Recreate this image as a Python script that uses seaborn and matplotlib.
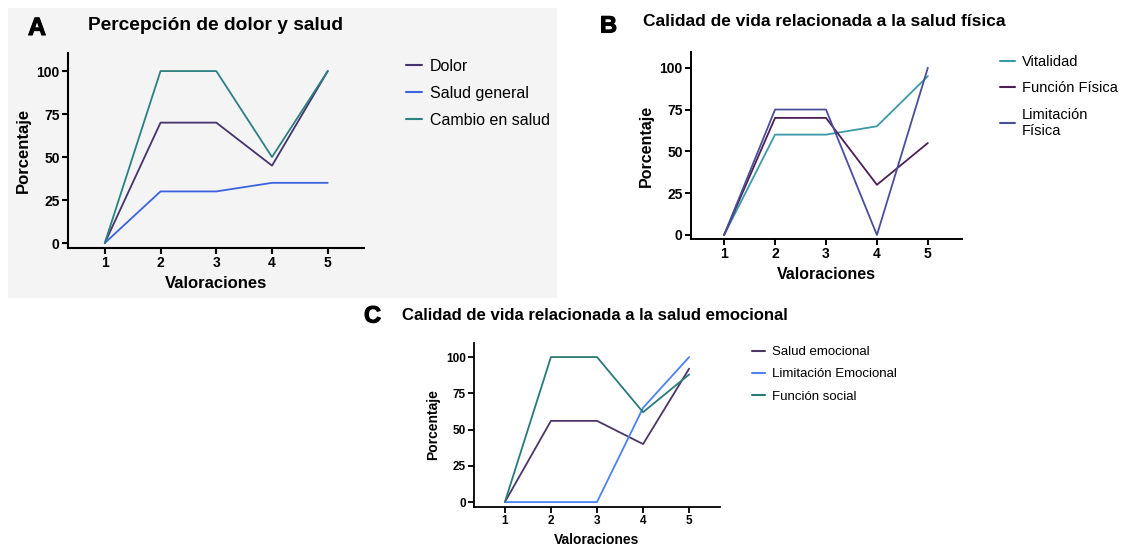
import matplotlib
matplotlib.use("Agg")
import matplotlib.pyplot as plt
import matplotlib.patheffects as pe
import pandas as pd
import seaborn as sns
from matplotlib.patches import Rectangle

# --- data ---
VALORACIONES = [1, 2, 3, 4, 5]

A_TITLE = "Percepción de dolor y salud"
A_SERIES = ["Dolor", "Salud general", "Cambio en salud"]
A_DOLOR = [0, 70, 70, 45, 100]
A_SALUD_GENERAL = [0, 30, 30, 35, 35]
A_CAMBIO_SALUD = [0, 100, 100, 50, 100]
A_COLORS = ["#46336e", "#3b63e0", "#2b8080"]

B_TITLE = "Calidad de vida relacionada a la salud física"
B_SERIES = ["Vitalidad", "Función Física", "Limitación\nFísica"]
B_VITALIDAD = [0, 60, 60, 65, 95]
B_FUNCION_FISICA = [0, 70, 70, 30, 55]
B_LIMITACION_FISICA = [0, 75, 75, 0, 100]
B_COLORS = ["#3b9aa6", "#4b1f55", "#4a4e9c"]

C_TITLE = "Calidad de vida relacionada a la salud emocional"
C_SERIES = ["Salud emocional", "Limitación Emocional", "Función social"]
C_SALUD_EMOCIONAL = [0, 56, 56, 40, 92]
C_LIMITACION_EMOCIONAL = [0, 0, 0, 65, 100]
C_FUNCION_SOCIAL = [0, 100, 100, 62, 88]
C_COLORS = ["#4b3666", "#4a82f0", "#2a7a7a"]

Y_TICKS = [0, 25, 50, 75, 100]

W, H = 1145, 548
FONT = ["Liberation Sans", "DejaVu Sans"]
HEAVY = [pe.withStroke(linewidth=0.8, foreground="black")]


def _long(series_names, values):
	rows = []
	for name, vals in zip(series_names, values):
		for x, y in zip(VALORACIONES, vals):
			rows.append({"Valoraciones": x, "Porcentaje": y, "serie": name})
	return pd.DataFrame(rows)


def _px_axes(fig, left, right, top, bottom):
	return fig.add_axes([left / W, 1 - bottom / H, (right - left) / W, (bottom - top) / H])


def _panel(fig, box, df, names, colors, xlim, ylim, tick_fs, label_fs, lw_axis):
	ax = _px_axes(fig, *box)
	ax.set_facecolor("none")
	sns.lineplot(
		data=df, x="Valoraciones", y="Porcentaje", hue="serie",
		hue_order=names, palette=dict(zip(names, colors)),
		linewidth=1.3, ax=ax, legend=False,
	)
	ax.set_xlim(*xlim)
	ax.set_ylim(*ylim)
	ax.set_xticks(VALORACIONES)
	ax.set_yticks(Y_TICKS)
	for sp in ["top", "right"]:
		ax.spines[sp].set_visible(False)
	for sp in ["left", "bottom"]:
		ax.spines[sp].set_linewidth(lw_axis)
		ax.spines[sp].set_color("black")
	ax.tick_params(length=4, width=lw_axis, labelsize=tick_fs, pad=2, colors="black")
	for lab in ax.get_xticklabels() + ax.get_yticklabels():
		lab.set_fontweight("bold")
	ax.set_xlabel("Valoraciones", fontsize=label_fs, fontweight="bold", labelpad=4, color="black")
	ax.set_ylabel("Porcentaje", fontsize=label_fs, fontweight="bold", labelpad=4, color="black")
	return ax


def _legend(fig, names, colors, x_px, y_px, fs, spacing):
	handles = [plt.Line2D([0], [0], color=c, lw=1.5) for c in colors]
	fig.legend(
		handles, names, loc="upper left",
		bbox_to_anchor=(x_px / W, 1 - y_px / H), bbox_transform=fig.transFigure,
		frameon=False, fontsize=fs, handlelength=1.0, handletextpad=0.5,
		labelspacing=spacing, borderpad=0, borderaxespad=0, labelcolor="black",
	)


def _heading(fig, letter, lx, ly, lfs, title, tx, ty, tfs):
	fig.text(lx / W, 1 - ly / H, letter, fontsize=lfs, fontweight="bold", va="center",
		ha="left", color="black", path_effects=HEAVY)
	fig.text(tx / W, 1 - ty / H, title, fontsize=tfs, fontweight="bold", va="center",
		ha="left", color="black")


def main() -> None:
	sns.set_style("ticks")
	plt.rcParams["font.family"] = FONT
	plt.rcParams["text.color"] = "black"

	fig = plt.figure(figsize=(W / 100, H / 100), dpi=100)
	fig.patch.set_facecolor("white")
	fig.patches.append(Rectangle((8 / W, 1 - 298 / H), (557 - 8) / W, (298 - 8) / H,
		transform=fig.transFigure, facecolor="#f4f4f4", edgecolor="none", zorder=-10))

	# Panel A
	df_a = _long(A_SERIES, [A_DOLOR, A_SALUD_GENERAL, A_CAMBIO_SALUD])
	_panel(fig, (68, 364, 53, 248), df_a, A_SERIES, A_COLORS,
		(0.34, 5.65), (-2.9, 110.5), 10, 12, 1.5)
	_heading(fig, "A", 28, 28, 18, A_TITLE, 88, 25, 13.8)
	_legend(fig, A_SERIES, A_COLORS, 406, 59, 11.5, 0.75)

	# Panel B
	df_b = _long(B_SERIES, [B_VITALIDAD, B_FUNCION_FISICA, B_LIMITACION_FISICA])
	_panel(fig, (691, 962, 52, 239), df_b, B_SERIES, B_COLORS,
		(0.35, 5.67), (-2.4, 109.4), 10, 11.5, 1.4)
	_heading(fig, "B", 600, 26, 17, B_TITLE, 643, 21, 12.5)
	_legend(fig, B_SERIES, B_COLORS, 1000, 55, 10.5, 0.85)

	# Panel C
	df_c = _long(C_SERIES, [C_SALUD_EMOCIONAL, C_LIMITACION_EMOCIONAL, C_FUNCION_SOCIAL])
	_panel(fig, (474, 720, 343, 507), df_c, C_SERIES, C_COLORS,
		(0.33, 5.67), (-3.4, 109.7), 8.5, 10, 1.3)
	_heading(fig, "C", 364, 316, 17, C_TITLE, 402, 316, 12.1)
	_legend(fig, C_SERIES, C_COLORS, 752, 346, 9.5, 0.75)

	fig.savefig("out.png", dpi=100)
	plt.close(fig)


if __name__ == "__main__":
	main()
